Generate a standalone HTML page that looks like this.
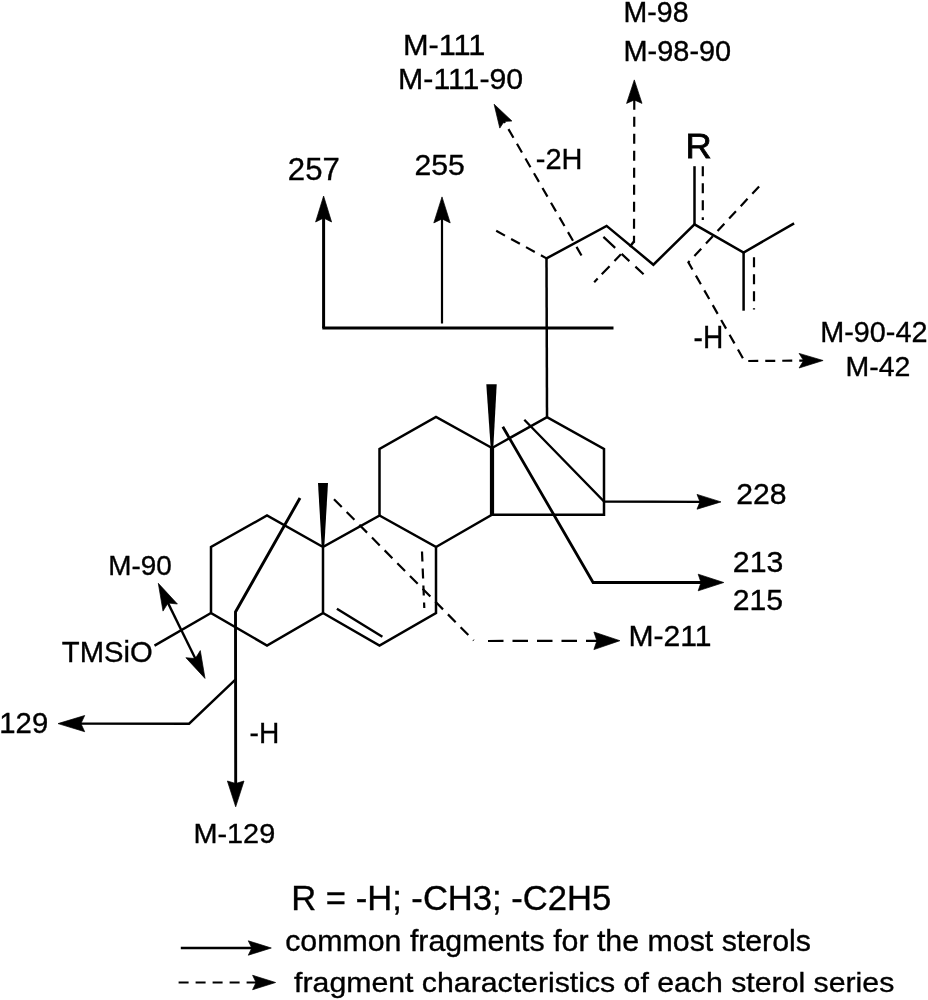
<!DOCTYPE html>
<html><head><meta charset="utf-8"><style>
html,body{margin:0;padding:0;background:#fff;}
svg{display:block;}
text{font-family:"Liberation Sans",sans-serif;fill:#000;}
.t{filter:grayscale(1);}
.t text{stroke:#000;stroke-width:0.35px;}
</style></head><body>
<svg width="928" height="1000" viewBox="0 0 928 1000">
<rect width="928" height="1000" fill="#fff"/>
<g stroke="#000" fill="none">
<polyline points="323.0,547.0 267.0,515.5 211.0,547.0 211.0,613.0 267.0,645.5 323.0,613.0 323.0,547.0 379.5,515.5 379.5,449.0 436.0,417.0 492.0,448.0" fill="none" stroke-width="2.5" stroke-linecap="butt" stroke-linejoin="miter"/>
<polyline points="323.0,613.0 379.5,645.5 436.0,613.0 436.0,547.0 379.5,515.5" fill="none" stroke-width="2.5" stroke-linecap="butt" stroke-linejoin="miter"/>
<polyline points="436.0,547.0 492.0,514.7 604.0,514.7 604.0,449.0 547.0,417.2 492.0,448.0" fill="none" stroke-width="2.5" stroke-linecap="butt" stroke-linejoin="miter"/>
<line x1="492.0" y1="447.0" x2="492.0" y2="515.7" stroke-width="4.2" stroke-linecap="butt"/>
<line x1="336.9" y1="608.7" x2="382.4" y2="636.8" stroke-width="2.5" stroke-linecap="butt"/>
<line x1="422.0" y1="551.5" x2="424.3" y2="608.0" stroke-width="2.2" stroke-linecap="butt" stroke-dasharray="10,7"/>
<polygon points="490.7,448.0 486.3,384.2 496.7,384.2 493.3,448.0" stroke="none" fill="#000"/>
<polygon points="321.7,547.0 318.0,483.0 328.0,483.0 324.3,547.0" stroke="none" fill="#000"/>
<line x1="211.0" y1="613.0" x2="154.5" y2="645.6" stroke-width="2.5" stroke-linecap="butt"/>
<line x1="547.0" y1="417.2" x2="546.5" y2="257.4" stroke-width="2.5" stroke-linecap="butt"/>
<polyline points="546.5,258.4 606.6,225.9 653.4,264.7 694.5,224.3 743.6,252.5 794.1,223.4" fill="none" stroke-width="2.5" stroke-linecap="butt" stroke-linejoin="miter"/>
<line x1="743.6" y1="252.5" x2="743.6" y2="310.7" stroke-width="2.5" stroke-linecap="butt"/>
<line x1="754.0" y1="257.2" x2="754.0" y2="309.5" stroke-width="2.2" stroke-linecap="butt" stroke-dasharray="10,7"/>
<line x1="694.5" y1="224.3" x2="694.5" y2="166.2" stroke-width="2.5" stroke-linecap="butt"/>
<line x1="702.8" y1="166.2" x2="702.8" y2="220.0" stroke-width="2.2" stroke-linecap="butt" stroke-dasharray="10,7"/>
<line x1="496.2" y1="230.8" x2="546.5" y2="258.4" stroke-width="2.2" stroke-linecap="butt" stroke-dasharray="10,7"/>
<line x1="322.3" y1="328.0" x2="613.5" y2="328.0" stroke-width="3" stroke-linecap="butt"/>
<polyline points="323.6,328.0 323.6,217.0" fill="none" stroke-width="3" stroke-linecap="butt" stroke-linejoin="miter"/>
<polygon points="323.6,196.0 331.6,222.0 323.6,218.0 315.6,222.0" stroke="#000" stroke-width="0.7" stroke-linejoin="round" fill="#000"/>
<polyline points="442.0,323.5 442.0,217.9" fill="none" stroke-width="2.2" stroke-linecap="butt" stroke-linejoin="miter"/>
<polygon points="442.0,196.9 450.2,222.9 442.0,218.9 433.8,222.9" stroke="#000" stroke-width="0.7" stroke-linejoin="round" fill="#000"/>
<polyline points="581.5,255.5 503.6,120.7" fill="none" stroke-width="2.2" stroke-linecap="butt" stroke-linejoin="miter" stroke-dasharray="10,7"/>
<polygon points="494.1,104.2 511.9,121.0 504.1,121.5 499.8,128.1" stroke="#000" stroke-width="0.7" stroke-linejoin="round" fill="#000"/>
<polyline points="634.0,242.7 634.3,98.9" fill="none" stroke-width="2.2" stroke-linecap="butt" stroke-linejoin="miter" stroke-dasharray="10,7" stroke-dashoffset="3"/>
<polygon points="634.3,79.9 642.0,103.4 634.3,99.9 626.6,103.4" stroke="#000" stroke-width="0.7" stroke-linejoin="round" fill="#000"/>
<line x1="634.0" y1="241.5" x2="629.8" y2="246.8" stroke-width="2.5" stroke-linecap="butt"/>
<line x1="594.2" y1="282.2" x2="621.8" y2="253.4" stroke-width="2.2" stroke-linecap="butt" stroke-dasharray="5,5.9,11.3,7.1,9.3,20"/>
<line x1="603.4" y1="236.9" x2="643.7" y2="274.4" stroke-width="2.2" stroke-linecap="butt" stroke-dasharray="16.1,8.8,10.6,8.2,11.2,20"/>
<polyline points="759.1,186.4 688.4,262.4 744.5,361.0 804.6,360.6" fill="none" stroke-width="2.2" stroke-linecap="butt" stroke-linejoin="miter" stroke-dasharray="10,7"/>
<polygon points="823.1,360.5 799.1,368.0 803.6,360.6 799.1,353.4" stroke="#000" stroke-width="0.7" stroke-linejoin="round" fill="#000"/>
<polyline points="524.3,419.8 604.1,501.5 701.0,501.8" fill="none" stroke-width="2.3" stroke-linecap="butt" stroke-linejoin="miter"/>
<polygon points="721.0,501.9 697.0,509.2 700.0,501.8 697.0,494.4" stroke="#000" stroke-width="0.7" stroke-linejoin="round" fill="#000"/>
<polyline points="502.8,426.7 593.1,582.5 702.0,582.5" fill="none" stroke-width="2.8" stroke-linecap="butt" stroke-linejoin="miter"/>
<polygon points="723.8,582.5 698.2,590.8 701.0,582.5 698.2,574.2" stroke="#000" stroke-width="0.7" stroke-linejoin="round" fill="#000"/>
<line x1="334.0" y1="499.2" x2="473.7" y2="640.4" stroke-width="2.2" stroke-linecap="butt" stroke-dasharray="11,7"/>
<polyline points="488.0,641.0 597.9,640.8" fill="none" stroke-width="2.2" stroke-linecap="butt" stroke-linejoin="miter" stroke-dasharray="15.5,9"/>
<polygon points="619.9,640.7 593.9,649.6 596.9,640.8 593.9,632.0" stroke="#000" stroke-width="0.7" stroke-linejoin="round" fill="#000"/>
<polyline points="300.0,498.0 235.5,612.0 235.7,784.5" fill="none" stroke-width="2.9" stroke-linecap="butt" stroke-linejoin="miter"/>
<polygon points="235.7,806.8 227.4,781.0 235.7,783.5 244.0,781.0" stroke="#000" stroke-width="0.7" stroke-linejoin="round" fill="#000"/>
<polyline points="235.4,679.7 189.1,723.7 79.9,723.6" fill="none" stroke-width="2.4" stroke-linecap="butt" stroke-linejoin="miter"/>
<polygon points="58.0,723.6 84.7,715.5 80.9,723.6 84.7,731.7" stroke="#000" stroke-width="0.7" stroke-linejoin="round" fill="#000"/>
<polyline points="181.5,630.5 167.6,602.1" fill="none" stroke-width="2.4" stroke-linecap="butt" stroke-linejoin="miter"/>
<polygon points="158.3,583.3 177.4,604.0 168.0,603.0 163.0,611.1" stroke="#000" stroke-width="0.7" stroke-linejoin="round" fill="#000"/>
<polyline points="181.5,630.5 195.8,659.5" fill="none" stroke-width="2.4" stroke-linecap="butt" stroke-linejoin="miter"/>
<polygon points="205.0,678.4 185.9,657.7 195.3,658.6 200.3,650.6" stroke="#000" stroke-width="0.7" stroke-linejoin="round" fill="#000"/>
<polyline points="180.8,948.0 252.8,948.0" fill="none" stroke-width="2.5" stroke-linecap="butt" stroke-linejoin="miter"/>
<polygon points="271.3,948.0 248.3,955.2 251.8,948.0 248.3,940.8" stroke="#000" stroke-width="0.7" stroke-linejoin="round" fill="#000"/>
<polyline points="178.6,982.5 257.1,982.5" fill="none" stroke-width="2.2" stroke-linecap="butt" stroke-linejoin="miter" stroke-dasharray="10,7"/>
<polygon points="275.6,982.5 252.6,989.7 256.1,982.5 252.6,975.3" stroke="#000" stroke-width="0.7" stroke-linejoin="round" fill="#000"/>
</g>
<g class="t">
<text x="402.9" y="54.9" font-size="30.11" textLength="82.5" lengthAdjust="spacingAndGlyphs">M-111</text>
<text x="398.1" y="88.9" font-size="29.68" textLength="125.1" lengthAdjust="spacingAndGlyphs">M-111-90</text>
<text x="623.5" y="22.0" font-size="28.67" textLength="65.0" lengthAdjust="spacingAndGlyphs">M-98</text>
<text x="623.5" y="60.9" font-size="28.67" textLength="107.7" lengthAdjust="spacingAndGlyphs">M-98-90</text>
<text x="0" y="0" font-size="34.5" style="stroke-width:0.8px" transform="translate(685.6,157.6) scale(1.05,1)">R</text>
<text x="287.8" y="180.1" font-size="30.54" textLength="52.0" lengthAdjust="spacingAndGlyphs">257</text>
<text x="414.6" y="174.8" font-size="29.68" textLength="50.3" lengthAdjust="spacingAndGlyphs">255</text>
<text x="535.8" y="168.5" font-size="29.25" textLength="46.7" lengthAdjust="spacingAndGlyphs">-2H</text>
<text x="693.6" y="348.0" font-size="30.55" textLength="29.7" lengthAdjust="spacingAndGlyphs">-H</text>
<text x="820.2" y="341.9" font-size="29.96" textLength="107.3" lengthAdjust="spacingAndGlyphs">M-90-42</text>
<text x="845.5" y="376.2" font-size="28.39" textLength="64.9" lengthAdjust="spacingAndGlyphs">M-42</text>
<text x="736.3" y="504.3" font-size="29.1" textLength="50.3" lengthAdjust="spacingAndGlyphs">228</text>
<text x="732.8" y="572.2" font-size="29.82" textLength="50.5" lengthAdjust="spacingAndGlyphs">213</text>
<text x="732.8" y="610.4" font-size="29.1" textLength="50.3" lengthAdjust="spacingAndGlyphs">215</text>
<text x="628.4" y="646.0" font-size="29.68" textLength="83.1" lengthAdjust="spacingAndGlyphs">M-211</text>
<text x="108.3" y="574.8" font-size="28.1" textLength="63.5" lengthAdjust="spacingAndGlyphs">M-90</text>
<text x="61.8" y="661.5" font-size="29.5" textLength="90.9" lengthAdjust="spacingAndGlyphs">TMSiO</text>
<text x="-0.7" y="733.1" font-size="28.67" textLength="48.9" lengthAdjust="spacingAndGlyphs">129</text>
<text x="249.6" y="742.8" font-size="30.11" textLength="29.7" lengthAdjust="spacingAndGlyphs">-H</text>
<text x="193.4" y="843.1" font-size="28.53" textLength="81.8" lengthAdjust="spacingAndGlyphs">M-129</text>
<text x="291.3" y="909.9" font-size="34.2" textLength="319.9" lengthAdjust="spacingAndGlyphs">R = -H; -CH3; -C2H5</text>
<text x="285.2" y="951.3" font-size="28.7" textLength="525.8" lengthAdjust="spacingAndGlyphs">common fragments for the most sterols</text>
<text x="294.1" y="991.8" font-size="28.3" textLength="600.2" lengthAdjust="spacingAndGlyphs">fragment characteristics of each sterol series</text>
</g>
</svg>
</body></html>
